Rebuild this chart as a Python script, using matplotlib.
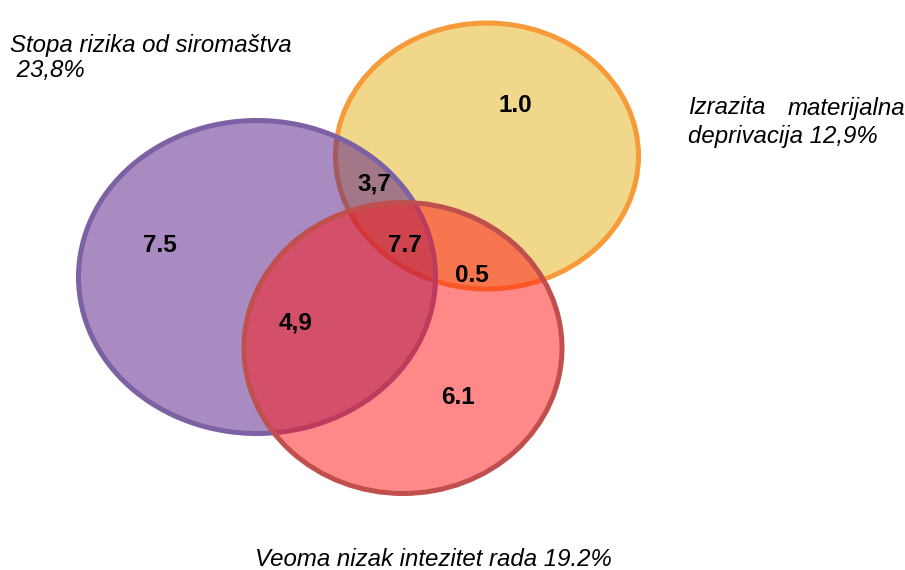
import matplotlib.pyplot as plt
from matplotlib.patches import Ellipse

plt.rcParams['font.family'] = ['Liberation Sans', 'DejaVu Sans']

# sets: poverty risk, material deprivation, low work intensity
set_names = ['Stopa rizika od siromaštva\n 23,8%',
             'Izrazita materijalna\ndeprivacija 12,9%',
             'Veoma nizak intezitet rada 19.2%']

# region values as printed on the chart
region_vals = ['7.5', '1.0', '6.1', '3,7', '4,9', '0.5', '7.7']
region_x = [160, 515, 458, 374, 296, 472, 405]
region_y = [245, 105, 398, 184, 323, 275, 245]

# ellipses (pixel space): yellow, purple, red - drawn in this order
ell_cx = [487, 257, 403]
ell_cy = [156, 277, 348]
ell_w = [303, 357, 318]
ell_h = [266, 313, 291]
ell_face = [(0.941, 0.843, 0.541, 1.0),
            (0.333, 0.098, 0.522, 0.5),
            (1.0, 0.082, 0.082, 0.5)]
ell_edge = ['#F79A3A', '#7C62A4', '#C0504D']

fig = plt.figure(figsize=(9.05, 5.70), dpi=100)
ax = fig.add_axes([0, 0, 1, 1])
ax.set_xlim(0, 905)
ax.set_ylim(570, 0)
ax.axis('off')

for i in range(3):
    e = Ellipse((ell_cx[i], ell_cy[i]), ell_w[i], ell_h[i],
                facecolor=ell_face[i], edgecolor=ell_edge[i], lw=3.6, zorder=i + 1)
    ax.add_patch(e)

for v, x, y in zip(region_vals, region_x, region_y):
    ax.text(x, y, v, ha='center', va='center', fontsize=17.5, fontweight='bold', zorder=10)

fs = 17.3
ax.text(10, 58, set_names[0], ha='left', va='center', fontsize=fs, style='italic',
        linespacing=1.12)
ax.text(688, 108, 'Izrazita', ha='left', va='center', fontsize=fs, style='italic')
ax.text(905, 108, 'materijalna', ha='right', va='center', fontsize=fs, style='italic')
ax.text(688, 137, 'deprivacija 12,9%', ha='left', va='center', fontsize=fs, style='italic')
ax.text(433, 560, set_names[2], ha='center', va='center', fontsize=fs, style='italic')

fig.savefig('out.png', dpi=100)
